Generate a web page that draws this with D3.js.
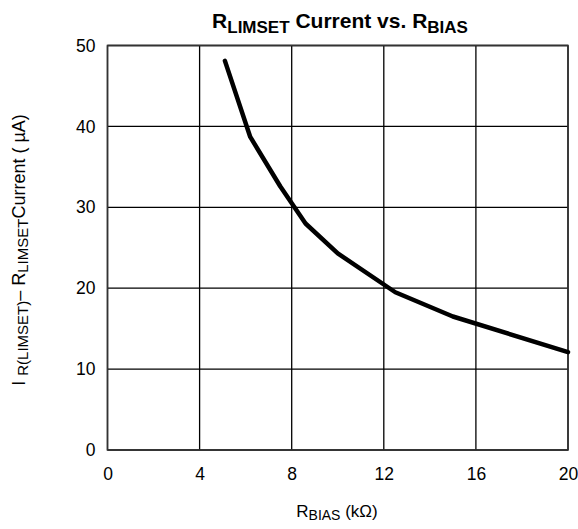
<!DOCTYPE html>
<html><head><meta charset="utf-8">
<script src="https://cdn.jsdelivr.net/npm/d3@7"></script>
<style>body{margin:0;background:#fff}svg text{font-family:"Liberation Sans",Arial,sans-serif;fill:#000}</style>
</head><body>
<script>
const rBias = [5.1, 6.2, 7.5, 8.6, 10.0, 12.5, 15.0, 20.0];
const current = [48.1, 38.7, 32.6, 28.0, 24.3, 19.5, 16.5, 12.1];
const xTicks = [0, 4, 8, 12, 16, 20];
const yTicks = [0, 10, 20, 30, 40, 50];

const W = 578, H = 529;
const m = {l: 107.5, r: 10, t: 45.5, b: 79};
const svg = d3.select("body").append("svg").attr("width", W).attr("height", H);
const x = d3.scaleLinear().domain([0, 20]).range([m.l, W - m.r]);
const y = d3.scaleLinear().domain([0, 50]).range([H - m.b, m.t]);

// grid
svg.append("g").selectAll("line.v").data(xTicks).join("line")
  .attr("x1", d => x(d)).attr("x2", d => x(d)).attr("y1", y(0)).attr("y2", y(50))
  .attr("stroke", "#000").attr("stroke-width", 1.3);
svg.append("g").selectAll("line.h").data(yTicks).join("line")
  .attr("x1", x(0)).attr("x2", x(20)).attr("y1", d => y(d)).attr("y2", d => y(d))
  .attr("stroke", "#000").attr("stroke-width", 1.3);
svg.append("rect").attr("x", x(0)).attr("y", y(50)).attr("width", x(20) - x(0)).attr("height", y(0) - y(50))
  .attr("fill", "none").attr("stroke", "#333").attr("stroke-width", 1.6);

// axes (labels only)
const xa = svg.append("g").attr("transform", `translate(0,${y(0)})`)
  .call(d3.axisBottom(x).tickValues(xTicks).tickSize(0).tickPadding(18));
const ya = svg.append("g").attr("transform", `translate(${x(0)},0)`)
  .call(d3.axisLeft(y).tickValues(yTicks).tickSize(0).tickPadding(12));
[xa, ya].forEach(a => { a.select(".domain").remove(); a.selectAll("text").attr("font-size", 17.5).attr("font-family", "Liberation Sans, Arial, sans-serif").attr("fill", "#000"); });

// curve
const data = rBias.map((d, i) => [d, current[i]]);
svg.append("path").datum(data)
  .attr("d", d3.line().x(d => x(d[0])).y(d => y(d[1])))
  .attr("fill", "none").attr("stroke", "#000").attr("stroke-width", 4.5)
  .attr("stroke-linejoin", "round").attr("stroke-linecap", "round");

// title
const t = svg.append("text").attr("x", 340).attr("y", 28).attr("text-anchor", "middle")
  .attr("font-size", 21).attr("font-weight", "bold");
t.append("tspan").text("R");
t.append("tspan").attr("font-size", 17).attr("dy", 5).text("LIMSET");
t.append("tspan").attr("dy", -5).text(" Current vs. R");
t.append("tspan").attr("font-size", 17).attr("dy", 5).text("BIAS");

// x label
const xl = svg.append("text").attr("x", 337).attr("y", 517).attr("text-anchor", "middle").attr("font-size", 17);
xl.append("tspan").text("R");
xl.append("tspan").attr("font-size", 14).attr("dy", 3).text("BIAS");
xl.append("tspan").attr("dy", -3).text(" (kΩ)");

// y label
const yl = svg.append("text").attr("transform", "translate(25,250) rotate(-90)").attr("text-anchor", "middle").attr("font-size", 18);
yl.append("tspan").text("I ");
yl.append("tspan").attr("font-size", 15).attr("dy", 3).text("R(LIMSET)");
yl.append("tspan").attr("dy", -3).text("– R");
yl.append("tspan").attr("font-size", 15).attr("dy", 3).text("LIMSET");
yl.append("tspan").attr("dy", -3).text("Current ( µA)");
</script>
</body></html>
